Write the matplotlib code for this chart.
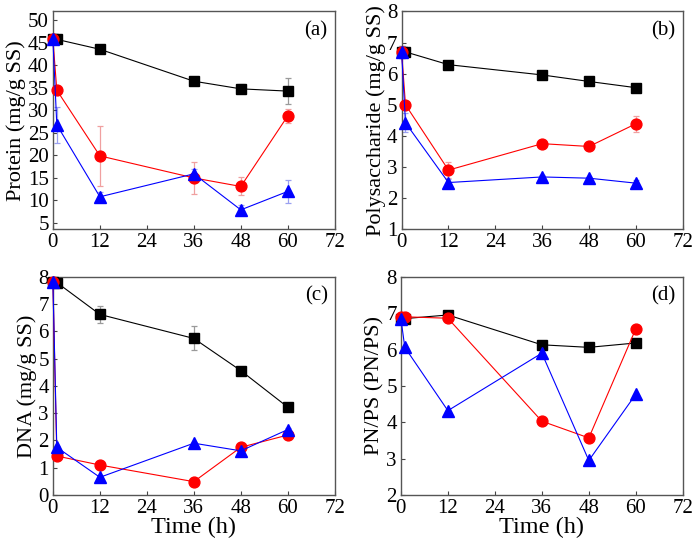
import numpy as np
import matplotlib
matplotlib.use("Agg")
import matplotlib.pyplot as plt

plt.rcParams['font.family'] = ['Liberation Serif', 'DejaVu Serif']
plt.rcParams['mathtext.fontset'] = 'stix'

time = [0, 1, 12, 36, 48, 60]

# (a) protein
pn_black = [45.8, 45.8, 43.6, 36.5, 34.8, 34.3]
pn_red = [45.8, 34.5, 19.9, 15.0, 13.1, 28.8]
pn_blue = [45.8, 26.8, 10.8, 15.9, 7.9, 12.0]
pn_black_err = [0.5, 0.5, 0.5, 0.5, 1.0, 2.9]
pn_red_err = [0.5, 0.5, 6.6, 3.5, 2.0, 1.5]
pn_blue_err = [0.5, 4.0, 1.0, 1.0, 1.0, 2.5]

# (b) polysaccharide
ps_black = [6.70, 6.70, 6.29, 5.96, 5.75, 5.55]
ps_red = [6.70, 5.00, 2.90, 3.75, 3.66, 4.39]
ps_blue = [6.70, 4.42, 2.50, 2.68, 2.64, 2.48]
ps_black_err = [0.2, 0.1, 0.05, 0.05, 0.05, 0.05]
ps_red_err = [0.2, 0.1, 0.25, 0.05, 0.05, 0.25]
ps_blue_err = [0.2, 0.3, 0.1, 0.05, 0.05, 0.1]

# (c) DNA
dna_black = [7.80, 7.79, 6.62, 5.74, 4.56, 3.22]
dna_red = [7.80, 1.43, 1.10, 0.49, 1.75, 2.20]
dna_blue = [7.80, 1.75, 0.65, 1.90, 1.62, 2.40]
dna_black_err = [0.05, 0.05, 0.32, 0.44, 0.05, 0.05]
dna_red_err = [0.05, 0.05, 0.05, 0.05, 0.05, 0.05]
dna_blue_err = [0.05, 0.05, 0.05, 0.05, 0.05, 0.05]

# (d) PN/PS
ratio_black = [6.85, 6.85, 6.95, 6.13, 6.06, 6.18]
ratio_red = [6.90, 6.90, 6.86, 4.03, 3.57, 6.57]
ratio_blue = [6.85, 6.06, 4.32, 5.90, 2.95, 4.77]

panels = [
    ("Protein (mg/g SS)", "(a)", (3.6, 52), np.arange(5, 51, 5),
     [(pn_black, pn_black_err), (pn_red, pn_red_err), (pn_blue, pn_blue_err)], False),
    ("Polysaccharide (mg/g SS)", "(b)", (1, 8), np.arange(1, 9, 1),
     [(ps_black, ps_black_err), (ps_red, ps_red_err), (ps_blue, ps_blue_err)], False),
    ("DNA (mg/g SS)", "(c)", (0, 8), np.arange(0, 9, 1),
     [(dna_black, dna_black_err), (dna_red, dna_red_err), (dna_blue, dna_blue_err)], True),
    ("PN/PS (PN/PS)", "(d)", (2, 8), np.arange(2, 9, 1),
     [(ratio_black, None), (ratio_red, None), (ratio_blue, None)], True),
]

styles = [
    dict(color="black", marker="s", ms=6.8, err="#9a9a9a"),
    dict(color="red", marker="o", ms=7.8, err="#f0a0a0"),
    dict(color="blue", marker="^", ms=8.3, err="#9aa0f0"),
]

fig = plt.figure(figsize=(6.96, 5.47), dpi=100)
boxes = [
    [0.076, 0.581, 0.405, 0.398],
    [0.577, 0.581, 0.404, 0.398],
    [0.076, 0.095, 0.405, 0.399],
    [0.576, 0.095, 0.405, 0.399],
]

for box, (ylab, tag, ylim, yticks, series, bottom) in zip(boxes, panels):
    ax = fig.add_axes(box)
    for (vals, err), st in zip(series, styles):
        if err is not None:
            ax.errorbar(time, vals, yerr=err, fmt="none", ecolor=st["err"],
                        elinewidth=0.9, capsize=2, capthick=0.9, clip_on=False)
        ax.plot(time, vals, color=st["color"], lw=0.8, marker=st["marker"],
                ms=st["ms"], mfc=st["color"], mec=st["color"], clip_on=False, zorder=3)
    ax.set_xlim(0, 72)
    ax.set_ylim(*ylim)
    ax.set_xticks(np.arange(0, 73, 12))
    ax.set_yticks(yticks)
    ax.tick_params(direction="in", length=3, width=0.8, labelsize=15,
                   colors="#444444", labelcolor="black", pad=3)
    for sp in ax.spines.values():
        sp.set_color("#555555")
        sp.set_linewidth(1)
    ax.set_ylabel(ylab, fontsize=16, labelpad=1)
    if bottom:
        ax.set_xlabel("Time (h)", fontsize=17.5, labelpad=-1)
    ax.text(0.975, 0.955, tag, transform=ax.transAxes, ha="right", va="top", fontsize=15)

fig.savefig("out.png", dpi=100)
